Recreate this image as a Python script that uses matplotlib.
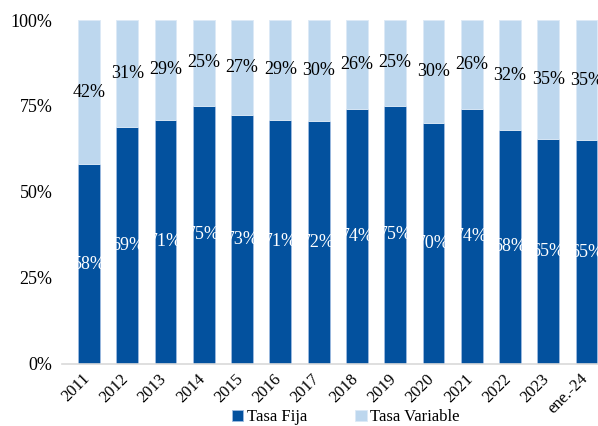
import numpy as np
import matplotlib
matplotlib.use("Agg")
import matplotlib.pyplot as plt
import matplotlib.transforms as mtransforms

plt.rcParams['font.family'] = ['Liberation Serif', 'DejaVu Serif']

years = ['2011', '2012', '2013', '2014', '2015', '2016', '2017', '2018',
         '2019', '2020', '2021', '2022', '2023', 'ene.-24']
fija = [58, 69, 71, 75, 72.5, 71, 70.5, 74, 75, 70, 74, 68, 65.5, 65]
fija_lbl = [58, 69, 71, 75, 73, 71, 72, 74, 75, 70, 74, 68, 65, 65]
var_lbl = [42, 31, 29, 25, 27, 29, 30, 26, 25, 30, 26, 32, 35, 35]
variable = [100 - f for f in fija]

c_fija = '#03519e'
c_var = '#bdd7ee'

fig = plt.figure(figsize=(5.98, 4.26), dpi=100)
ax = fig.add_axes([0.104, 0.146, 0.896, 0.807])

x = np.arange(len(years))
w = 0.57
b1 = ax.bar(x, fija, w, color=c_fija, edgecolor='#9dbbe0', linewidth=0.6, label='Tasa Fija')
b2 = ax.bar(x, variable, w, bottom=fija, color=c_var, edgecolor='#dce9f6', linewidth=0.6,
            label='Tasa Variable')

for i in range(len(years)):
    ax.text(x[i], fija[i] / 2, f'{fija_lbl[i]}%', ha='center', va='center',
            color='white', fontsize=13)
    ax.text(x[i], fija[i] + variable[i] / 2, f'{var_lbl[i]}%', ha='center', va='center',
            color='black', fontsize=13)

ax.set_xlim(-0.7, 13.3)
ax.set_ylim(0, 100)
ax.set_yticks([0, 25, 50, 75, 100])
ax.set_yticklabels(['0%', '25%', '50%', '75%', '100%'], fontsize=13)
ax.set_xticks(x)
ax.set_xticklabels(years, rotation=45, ha='right', rotation_mode='anchor', fontsize=12)
ax.tick_params(axis='both', length=0)
ax.tick_params(axis='x', pad=5)
ax.tick_params(axis='y', pad=7)
shift = mtransforms.ScaledTranslation(-7 / 100, 0, fig.dpi_scale_trans)
for lbl in ax.get_xticklabels():
    lbl.set_transform(lbl.get_transform() + shift)
for s in ['top', 'right', 'left']:
    ax.spines[s].set_visible(False)
ax.spines['bottom'].set_color('#d9d9d9')
ax.spines['bottom'].set_linewidth(1.2)

fig.legend(handles=[b1, b2], loc='center', bbox_to_anchor=(0.578, 0.02), ncol=2,
           frameon=False, fontsize=12, handlelength=0.7, handleheight=0.7,
           handletextpad=0.2, columnspacing=2.9)

fig.savefig('out.png', dpi=100)
